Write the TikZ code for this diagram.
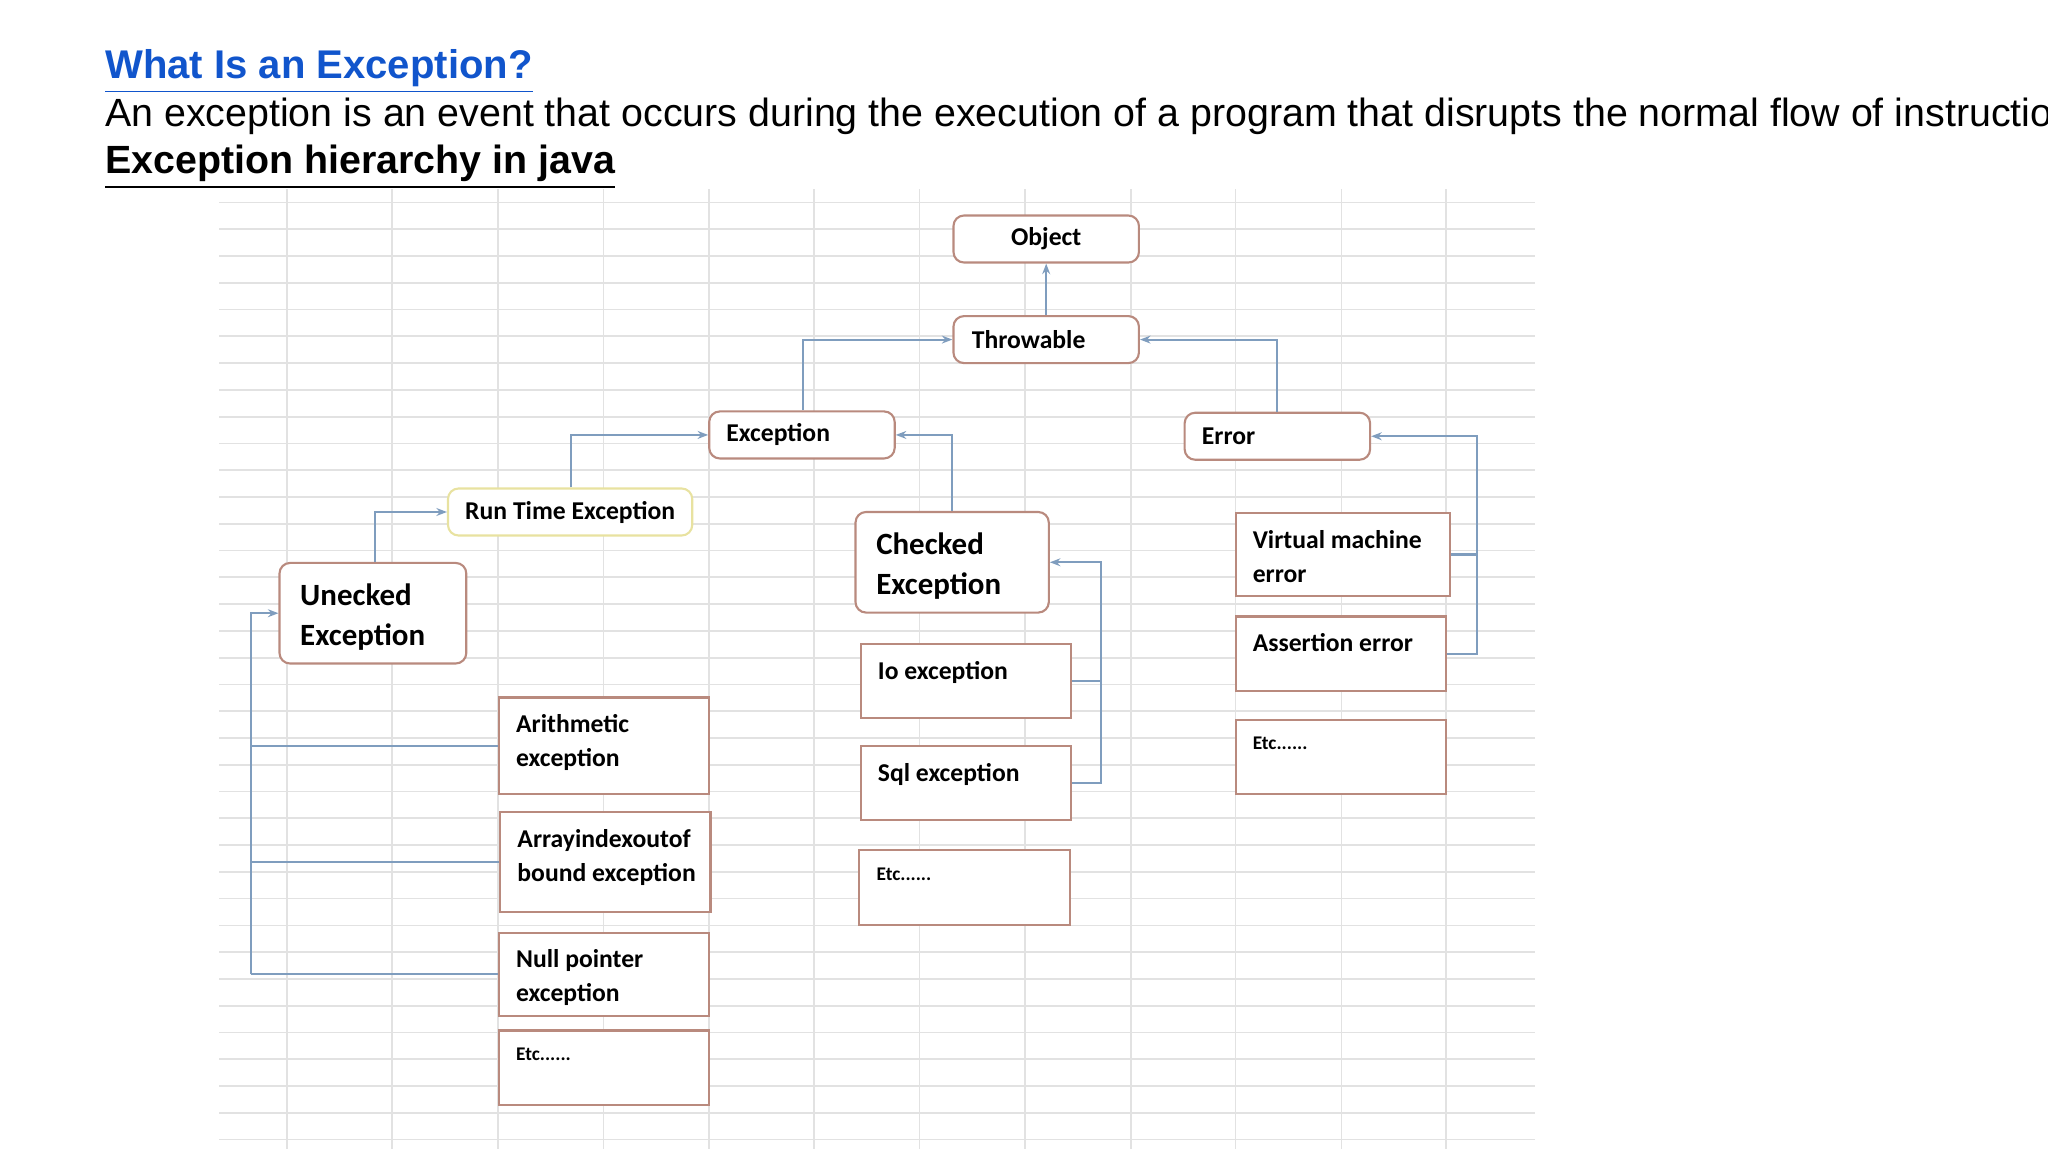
\documentclass[tikz,border=0pt]{standalone}
\usepackage{fontspec}
\setmainfont{Liberation Sans}
\newfontfamily\boxfont{Carlito}
\usetikzlibrary{arrows.meta, fit}

\definecolor{linkblue}{HTML}{1155CC}
\definecolor{wire}{HTML}{7F9DBE}
\definecolor{rim}{HTML}{B98A7E}
\definecolor{rimy}{HTML}{E8E2A0}
\definecolor{gridc}{HTML}{E2E2E2}

\begin{document}
\begin{tikzpicture}[
      x=0.013061cm, y=-0.013061cm,
      box/.style={draw=rim, rounded corners=3pt, fill=white, inner sep=0pt, line width=0.6pt},
      txt/.style={font=\boxfont\bfseries\fontsize{7.3}{9.6}\selectfont, align=left, inner sep=5pt},
      big/.style={font=\boxfont\bfseries\fontsize{8.8}{11.5}\selectfont, align=left, inner sep=6pt},
      tiny/.style={font=\boxfont\bfseries\fontsize{5.5}{7}\selectfont, inner sep=5pt},
      arr/.style={-{Stealth[length=3pt]}, draw=wire, line width=0.6pt},
      ln/.style={draw=wire, line width=0.6pt},
    ]
    \useasboundingbox (0,0) rectangle (1568,882);

    % headings
    \node[anchor=base west, inner sep=0, text=linkblue, font=\bfseries\fontsize{11.4}{14}\selectfont] (title) at (80,60) {\underline{What Is an Exception?}};
    \node[anchor=base west, inner sep=0, font=\fontsize{11.2}{14}\selectfont] (intro) at (80,97) {An exception is an event that occurs during the execution of a program that disrupts the normal flow of instructions};
    \node[anchor=base west, inner sep=0, font=\bfseries\fontsize{11.2}{14}\selectfont] (sub) at (80,133) {\underline{Exception hierarchy in java}};

    % sheet grid
    \foreach \y in {155,175.5,...,876} \draw[gridc, line width=0.5pt] (168,\y) -- (1175,\y);
    \foreach \x in {220,300,381,462,543,623,704,785,866,946,1027,1107} \draw[gridc, line width=0.5pt] (\x,145) -- (\x,880);

    % boxes
    \node[box, fit={(730,165) (872,201)}] (obj) {};
    \node[txt] at (obj.center) {Object};
    \node[box, fit={(730,242) (872,278)}] (thr) {};
    \node[txt] at ([xshift=-5pt]thr.center) {Throwable};
    \node[box, fit={(543,315) (685,351)}, label={[txt, anchor=west]west:Exception}] (exc) {};
    \node[box, fit={(907,316) (1049,352)}, label={[txt, anchor=west]west:Error}] (err) {};
    \node[box, draw=rimy, fit={(343,374) (530,410)}, label={[txt, anchor=west]west:Run Time Exception}] (rte) {};
    \node[box, fit={(214,431) (357,508)}, label={[big, anchor=north west]north west:Unecked\\Exception}] (unc) {};
    \node[box, fit={(655,392) (803,469)}, label={[big, anchor=north west]north west:Checked\\Exception}] (chk) {};

    \node[box, rounded corners=0, fit={(946,393) (1110,456)}, label={[txt, anchor=north west]north west:Virtual machine\\error}] (vme) {};
    \node[box, rounded corners=0, fit={(946,472) (1107,529)}, label={[txt, anchor=north west]north west:Assertion error}] (ase) {};
    \node[box, rounded corners=0, fit={(946,551) (1107,608)}, label={[tiny, anchor=north west]north west:Etc......}] (etce) {};

    \node[box, rounded corners=0, fit={(659,493) (820,550)}, label={[txt, anchor=north west]north west:Io exception}] (ioe) {};
    \node[box, rounded corners=0, fit={(659,571) (820,628)}, label={[txt, anchor=north west]north west:Sql exception}] (sql) {};
    \node[box, rounded corners=0, fit={(658,651) (819,708)}, label={[tiny, anchor=north west]north west:Etc......}] (etcc) {};

    \node[box, rounded corners=0, fit={(382,534) (543,608)}, label={[txt, anchor=north west]north west:Arithmetic\\exception}] (ari) {};
    \node[box, rounded corners=0, fit={(383,622) (544,698)}, label={[txt, anchor=north west]north west:Arrayindexoutof\\bound exception}] (aio) {};
    \node[box, rounded corners=0, fit={(382,714) (543,778)}, label={[txt, anchor=north west]north west:Null pointer\\exception}] (npe) {};
    \node[box, rounded corners=0, fit={(382,789) (543,846)}, label={[tiny, anchor=north west]north west:Etc......}] (etcu) {};

    % joints
    \coordinate (ujoin) at (192,746);
    \coordinate (cjoin) at (843,600);
    \coordinate (ejoin) at (1131,500);

    % connectors
    \draw[arr] (thr.north) -- (obj.south);
    \draw[arr] (exc.north -| 615,0) |- (thr.west);
    \draw[arr] (err.north -| 978,0) |- (thr.east);
    \draw[arr] (rte.north -| 437,0) |- (exc.west);
    \draw[arr] (chk.north -| 729,0) |- (exc.east);
    \draw[arr] (unc.north -| 287,0) |- (rte.west);

    \draw[ln] (ari.west) -- (ari.west -| ujoin);
    \draw[ln] (aio.west) -- (aio.west -| ujoin);
    \draw[ln] (npe.west) -| (ujoin);
    \draw[arr] (ujoin) |- (unc.west);

    \draw[ln] (ioe.east) -- (ioe.east -| cjoin);
    \draw[ln] (sql.east) -| (cjoin);
    \draw[arr] (cjoin) |- (chk.east);

    \draw[ln] (vme.east) -- (vme.east -| ejoin);
    \draw[ln] (ase.east) -| (ejoin);
    \draw[arr] (ejoin) |- (err.east);
  \end{tikzpicture}
\end{document}
